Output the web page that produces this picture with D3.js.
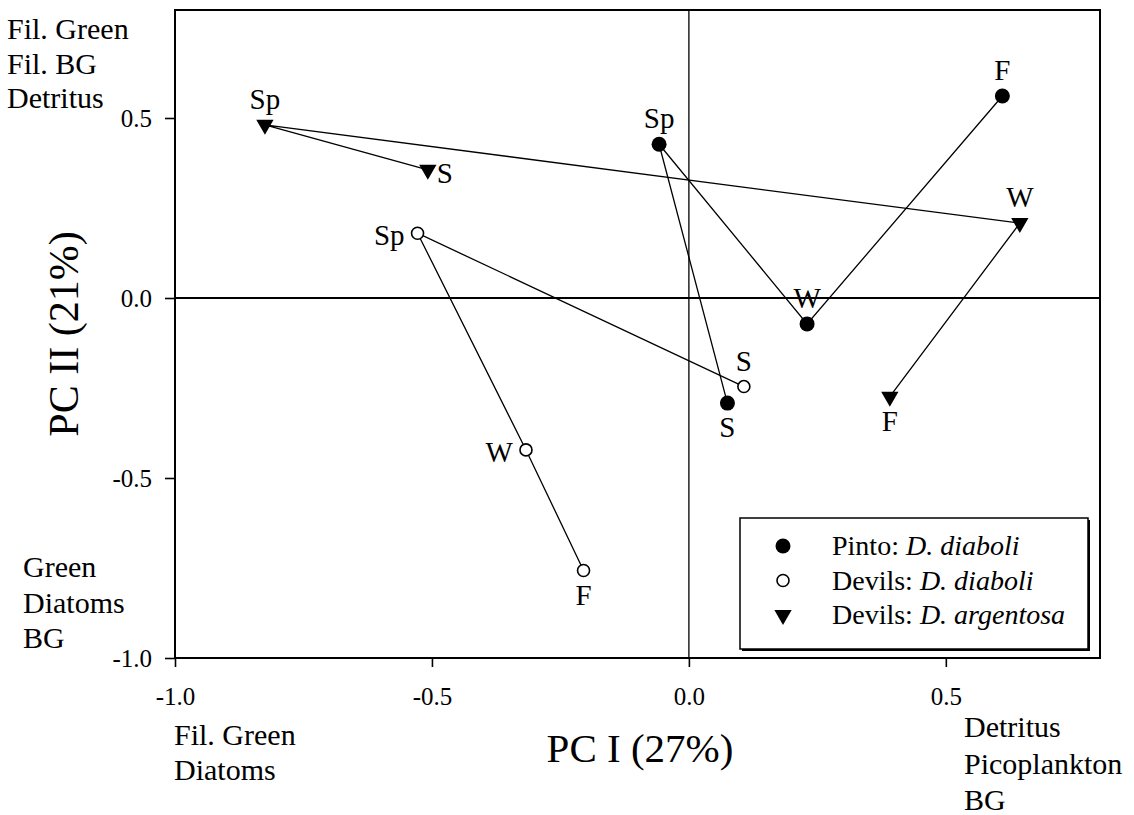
<!DOCTYPE html>
<html>
<head>
<meta charset="utf-8">
<script src="https://cdn.jsdelivr.net/npm/d3@7"></script>
<style>
  body { margin: 0; background: #fff; }
  svg text { font-family: "Liberation Serif", "Times New Roman", serif; fill: #000; }
</style>
</head>
<body>
<svg id="chart" width="1134" height="815" font-family="Liberation Serif, serif"></svg>
<script>
// seasons in sampling order (lines go F -> W -> Sp -> S)
const seasons = ['F', 'W', 'Sp', 'S'];

const pintoDiaboliPC1 = [0.610, 0.230, -0.058, 0.075];
const pintoDiaboliPC2 = [0.561, -0.072, 0.427, -0.292];

const devilsDiaboliPC1 = [-0.205, -0.317, -0.528, 0.107];
const devilsDiaboliPC2 = [-0.757, -0.422, 0.180, -0.246];

const devilsArgentosaPC1 = [0.391, 0.644, -0.825, -0.508];
const devilsArgentosaPC2 = [-0.274, 0.208, 0.481, 0.356];

const xTicks = [-1.0, -0.5, 0.0, 0.5];
const yTicks = [-1.0, -0.5, 0.0, 0.5];

// where each season label sits relative to its point
const pintoLabelSide = ['above', 'above', 'above', 'below'];
const diaboliLabelSide = ['below', 'left', 'left', 'above'];
const argentosaLabelSide = ['below', 'above', 'above', 'right'];

const series = [
  { name: 'Pinto: ', species: 'D. diaboli', pc1: pintoDiaboliPC1, pc2: pintoDiaboliPC2, side: pintoLabelSide, mark: 'filled' },
  { name: 'Devils: ', species: 'D. diaboli', pc1: devilsDiaboliPC1, pc2: devilsDiaboliPC2, side: diaboliLabelSide, mark: 'open' },
  { name: 'Devils: ', species: 'D. argentosa', pc1: devilsArgentosaPC1, pc2: devilsArgentosaPC2, side: argentosaLabelSide, mark: 'triangle' }
];

const svg = d3.select('#chart');
const plotLeft = 175, plotRight = 1100, plotTop = 10, plotBottom = 658;

const x = d3.scaleLinear().domain([-1, 0.8]).range([plotLeft, plotRight]);
const y = d3.scaleLinear().domain([-1, 0.8]).range([plotBottom, plotTop]);

// plain hyphen for negatives, like the original
const fmt = d => d3.format('.1f')(d).replace('\u2212', '-');

// axes (ticks point outward)
svg.append('g')
  .attr('transform', `translate(0,${plotBottom})`)
  .call(d3.axisBottom(x).tickValues(xTicks).tickFormat(fmt).tickSize(9).tickPadding(20))
  .call(g => g.select('.domain').remove())
  .call(g => g.selectAll('line').attr('stroke-width', 1.6))
  .call(g => g.selectAll('text').attr('font-size', 25).attr('font-family', '"Liberation Serif", serif'));

svg.append('g')
  .attr('transform', `translate(${plotLeft},0)`)
  .call(d3.axisLeft(y).tickValues(yTicks).tickFormat(fmt).tickSize(10).tickPadding(13))
  .call(g => g.select('.domain').remove())
  .call(g => g.selectAll('line').attr('stroke-width', 1.6))
  .call(g => g.selectAll('text').attr('font-size', 25).attr('font-family', '"Liberation Serif", serif'));

// frame
svg.append('rect')
  .attr('x', plotLeft).attr('y', plotTop)
  .attr('width', plotRight - plotLeft).attr('height', plotBottom - plotTop)
  .attr('fill', 'none').attr('stroke', '#000').attr('stroke-width', 2);

// zero reference lines
svg.append('line')
  .attr('x1', plotLeft).attr('x2', plotRight).attr('y1', y(0)).attr('y2', y(0))
  .attr('stroke', '#000').attr('stroke-width', 2);
svg.append('line')
  .attr('x1', x(0)).attr('x2', x(0)).attr('y1', plotTop).attr('y2', plotBottom)
  .attr('stroke', '#000').attr('stroke-width', 1.3);

const line = d3.line().x(d => x(d[0])).y(d => y(d[1]));
const tri = d3.symbol().type(d3.symbolTriangle).size(130);

function drawMark(g, kind, cx, cy) {
  if (kind === 'filled') {
    g.append('circle').attr('cx', cx).attr('cy', cy).attr('r', 7.5).attr('fill', '#000');
  } else if (kind === 'open') {
    g.append('circle').attr('cx', cx).attr('cy', cy).attr('r', 6)
      .attr('fill', '#fff').attr('stroke', '#000').attr('stroke-width', 1.6);
  } else {
    g.append('path').attr('d', tri)
      .attr('transform', `translate(${cx},${cy}) rotate(180)`)
      .attr('fill', '#000');
  }
}

const labelOffset = {
  above: [0, -16, 'middle'],
  below: [0, 34, 'middle'],
  left: [-13, 12, 'end'],
  right: [9, 13, 'start']
};

series.forEach(s => {
  const pts = s.pc1.map((v, i) => [v, s.pc2[i]]);
  svg.append('path').datum(pts)
    .attr('d', line).attr('fill', 'none').attr('stroke', '#000').attr('stroke-width', 1.3);

  const g = svg.append('g');
  pts.forEach((p, i) => {
    drawMark(g, s.mark, x(p[0]), y(p[1]));
    const o = labelOffset[s.side[i]];
    g.append('text')
      .attr('x', x(p[0]) + o[0])
      .attr('y', y(p[1]) + o[1])
      .attr('text-anchor', o[2])
      .attr('font-size', 29)
      .text(seasons[i]);
  });
});

// legend with drop shadow
const lg = svg.append('g');
lg.append('rect').attr('x', 742).attr('y', 520).attr('width', 348).attr('height', 131).attr('fill', '#000');
lg.append('rect').attr('x', 740).attr('y', 518).attr('width', 348).attr('height', 131)
  .attr('fill', '#fff').attr('stroke', '#000').attr('stroke-width', 1.5);

series.forEach((s, i) => {
  const cy = 546 + i * 34.5;
  drawMark(lg, s.mark, 783, cy);
  const t = lg.append('text').attr('x', 832).attr('y', cy + 9).attr('font-size', 28);
  t.append('tspan').text(s.name);
  t.append('tspan').attr('font-style', 'italic').text(s.species);
});

// loading annotations
function block(lines, x0, y0, size, step) {
  const t = svg.append('text').attr('x', x0).attr('y', y0).attr('font-size', size);
  lines.forEach((l, i) => t.append('tspan').attr('x', x0).attr('dy', i ? step : 0).text(l));
}
block(['Fil. Green', 'Fil. BG', 'Detritus'], 7, 39, 30, 34.5);
block(['Green', 'Diatoms', 'BG'], 23, 577, 30, 35.5);
block(['Fil. Green', 'Diatoms'], 174, 745, 30, 35);
block(['Detritus', 'Picoplankton', 'BG'], 964, 737, 30, 36.5);

// axis titles
svg.append('text').attr('x', 640).attr('y', 762).attr('text-anchor', 'middle')
  .attr('font-size', 41).text('PC I (27%)');
svg.append('text').attr('transform', 'translate(78,334) rotate(-90)').attr('text-anchor', 'middle')
  .attr('font-size', 42).text('PC II (21%)');
</script>
</body>
</html>
